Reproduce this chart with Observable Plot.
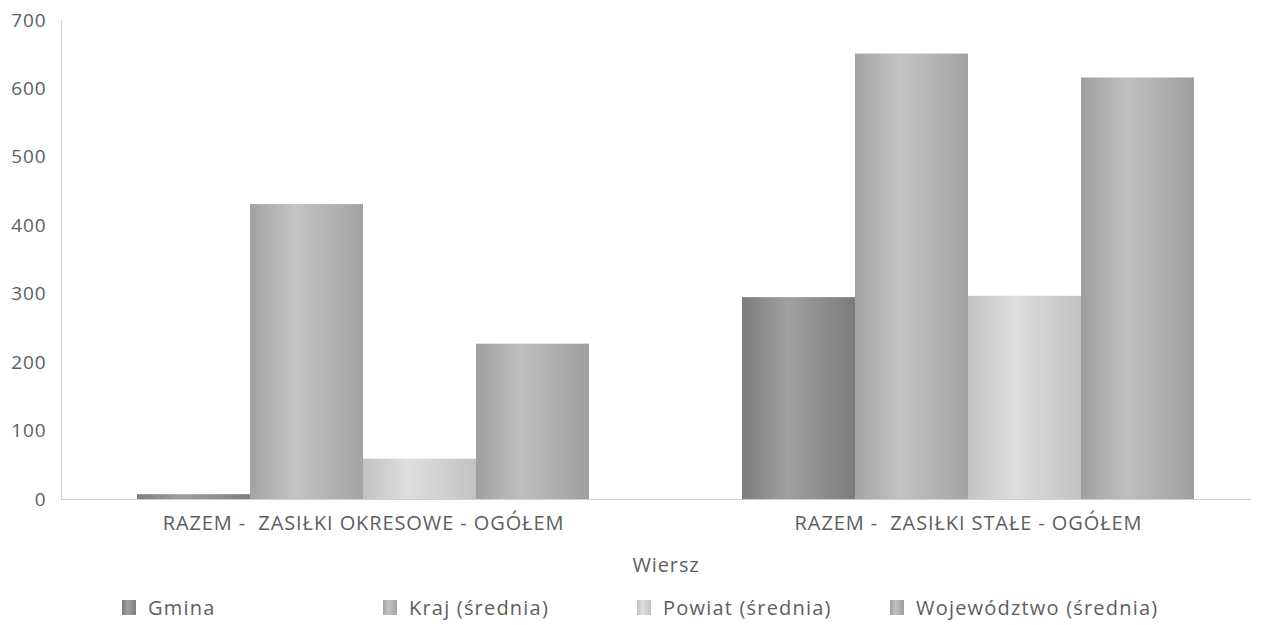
<!DOCTYPE html>
<html>
<head>
<meta charset="utf-8">
<script src="https://cdn.jsdelivr.net/npm/d3@7"></script>
<script src="https://cdn.jsdelivr.net/npm/@observablehq/plot@0.6"></script>
<style>
  body { margin: 0; background: #fff; font-family: "Open Sans", "Noto Sans", sans-serif; }
  #chart { position: relative; width: 1266px; }
  .legend { position: relative; height: 40px; padding-top: 9px; }
  .legend .item { position: absolute; top: 9px; display: flex; align-items: center; font-size: 20px; line-height: 27px; letter-spacing: 1.2px; color: #5e5e5e; white-space: nowrap; }
  .legend .sw { width: 14px; height: 15px; margin-right: 12px; }
</style>
</head>
<body>
<div id="chart"></div>
<script>
const categories = ["RAZEM -  ZASIŁKI OKRESOWE - OGÓŁEM", "RAZEM -  ZASIŁKI STAŁE - OGÓŁEM"];
const series = ["Gmina", "Kraj (średnia)", "Powiat (średnia)", "Województwo (średnia)"];
const gmina = [7, 295];
const kraj = [431, 651];
const powiat = [59, 297];
const wojewodztwo = [227, 616];
const yTicks = [0, 100, 200, 300, 400, 500, 600, 700];
const xLabel = "Wiersz";

const seriesValues = [gmina, kraj, powiat, wojewodztwo];
const gradients = [
  {id: "g0", edge: "#7c7c7c", mid: "#a0a0a0"},
  {id: "g1", edge: "#a2a2a2", mid: "#c4c4c4"},
  {id: "g2", edge: "#c2c2c2", mid: "#dedede"},
  {id: "g3", edge: "#9e9e9e", mid: "#c0c0c0"}
];

const data = [];
categories.forEach((c, i) => series.forEach((s, j) => data.push({category: c, series: s, value: seriesValues[j][i]})));

const chart = Plot.plot({
  width: 1266,
  height: 585,
  marginLeft: 60,
  marginRight: 16,
  marginTop: 20,
  marginBottom: 86,
  style: {fontFamily: "'Open Sans', 'Noto Sans', sans-serif", fontSize: "20px", color: "#5e5e5e", background: "#fff", letterSpacing: "0.9px"},
  fx: {domain: categories, paddingInner: 0.25, paddingOuter: 0.1073, align: 0.577, label: null},
  x: {domain: series, padding: 0, axis: null},
  y: {domain: [0, 700], axis: null},
  color: {type: "ordinal", domain: series, range: gradients.map(g => `url(#${g.id})`)},
  marks: [
    Plot.barY(data, {fx: "category", x: "series", y: "value", fill: "series"}),
    Plot.frame({anchor: "left", stroke: "#d0d0d0", dx: -75, facet: "super"}),
    Plot.frame({anchor: "bottom", stroke: "#d0d0d0", insetLeft: -75, insetRight: -55, facet: "super"}),
    Plot.axisY({anchor: "left", ticks: yTicks, tickSize: 0, tickPadding: 15, dx: -75, fontSize: 19, fill: "#5e5e5e", label: null}),
    Plot.axisFx({anchor: "bottom", tickSize: 0, tickPadding: 16, fontSize: 20, fill: "#5e5e5e", label: xLabel, labelAnchor: "center", labelOffset: 72})
  ]
});

const svg = d3.select(chart);
const defs = svg.insert("defs", ":first-child");
gradients.forEach(g => {
  const lg = defs.append("linearGradient").attr("id", g.id).attr("x1", "0").attr("x2", "1").attr("y1", "0").attr("y2", "0");
  lg.append("stop").attr("offset", "0%").attr("stop-color", g.edge);
  lg.append("stop").attr("offset", "40%").attr("stop-color", g.mid);
  lg.append("stop").attr("offset", "100%").attr("stop-color", g.edge);
});

const root = document.getElementById("chart");
root.appendChild(chart);

const legend = document.createElement("div");
legend.className = "legend";
const legendLeft = [122, 383, 637, 890];
series.forEach((s, j) => {
  const item = document.createElement("div");
  item.className = "item";
  item.style.left = legendLeft[j] + "px";
  const sw = document.createElement("span");
  sw.className = "sw";
  const g = gradients[j];
  sw.style.background = `linear-gradient(to right, ${g.edge}, ${g.mid} 40%, ${g.edge})`;
  item.appendChild(sw);
  item.appendChild(document.createTextNode(s));
  legend.appendChild(item);
});
root.appendChild(legend);
</script>
</body>
</html>
